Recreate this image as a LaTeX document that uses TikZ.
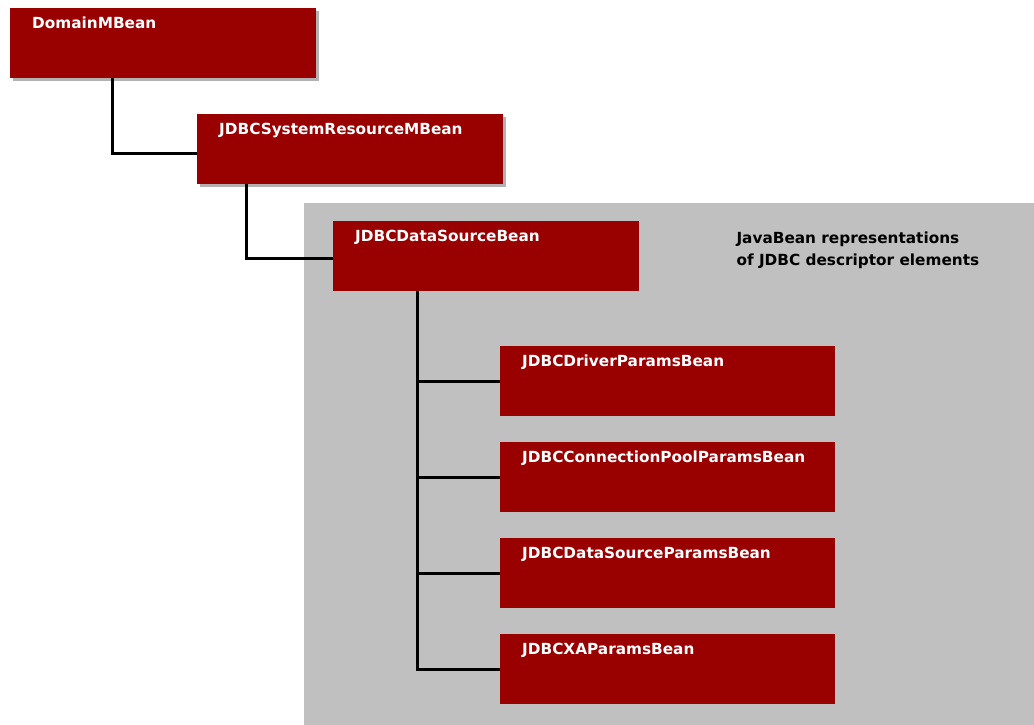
\documentclass[tikz,border=0pt]{standalone}
\usepackage{fontspec}
\setmainfont{DejaVu Sans}
\usetikzlibrary{shadows}
\definecolor{beanred}{HTML}{990000}
\definecolor{panelgray}{HTML}{C0C0C0}
\tikzset{
  bean/.style={fill=beanred, text=white, anchor=north west, align=left,
    font=\fontsize{15.3}{18}\selectfont\bfseries,
    inner xsep=22pt, inner ysep=0pt, text height=20pt, text depth=50pt},
  outer bean/.style={bean, text width=262pt,
    drop shadow={shadow xshift=3pt, shadow yshift=-3pt, fill=black!30, opacity=1}},
  inner bean/.style={bean, text width=291pt},
  link/.style={line width=3pt},
}
\begin{document}
\begin{tikzpicture}[x=1pt, y=-1pt]
  \useasboundingbox (0,0) rectangle (1034,725);
  \fill[white] (0,0) rectangle (1034,725);

  % panel of the descriptor beans
  \fill[panelgray] (304,203) rectangle (1034,725);
  \node[anchor=base west, align=left, font=\fontsize{15.3}{21.5}\selectfont\bfseries]
    (caption) at (733,265) {JavaBean representations\\of JDBC descriptor elements};

  % mbeans
  \node[outer bean] (domain) at (10,8) {DomainMBean};
  \node[outer bean] (sysres) at (197,114) {JDBCSystemResourceMBean};
  \node[inner bean, text width=262pt] (dsbean) at (333,221) {JDBCDataSourceBean};

  % child beans
  \node[inner bean] (driver)   at (500,346) {JDBCDriverParamsBean};
  \node[inner bean] (pool)     at (500,442) {JDBCConnectionPoolParamsBean};
  \node[inner bean] (dsparams) at (500,538) {JDBCDataSourceParamsBean};
  \node[inner bean] (xa)       at (500,634) {JDBCXAParamsBean};

  % tree lines
  \coordinate (domainfoot) at ([xshift=102pt]domain.south west);
  \coordinate (sysresfoot) at ([xshift=49pt]sysres.south west);
  \coordinate (dsfoot) at ([xshift=84pt]dsbean.south west);
  \draw[link] (domainfoot) |- ([yshift=-4pt]sysres.west);
  \draw[link] (sysresfoot) |- ([yshift=-2pt]dsbean.west);
  \draw[link] (dsfoot) |- (xa.west);
  \foreach \b in {driver, pool, dsparams}
    \draw[link] (dsfoot |- \b.west) -- (\b.west);
\end{tikzpicture}
\end{document}
